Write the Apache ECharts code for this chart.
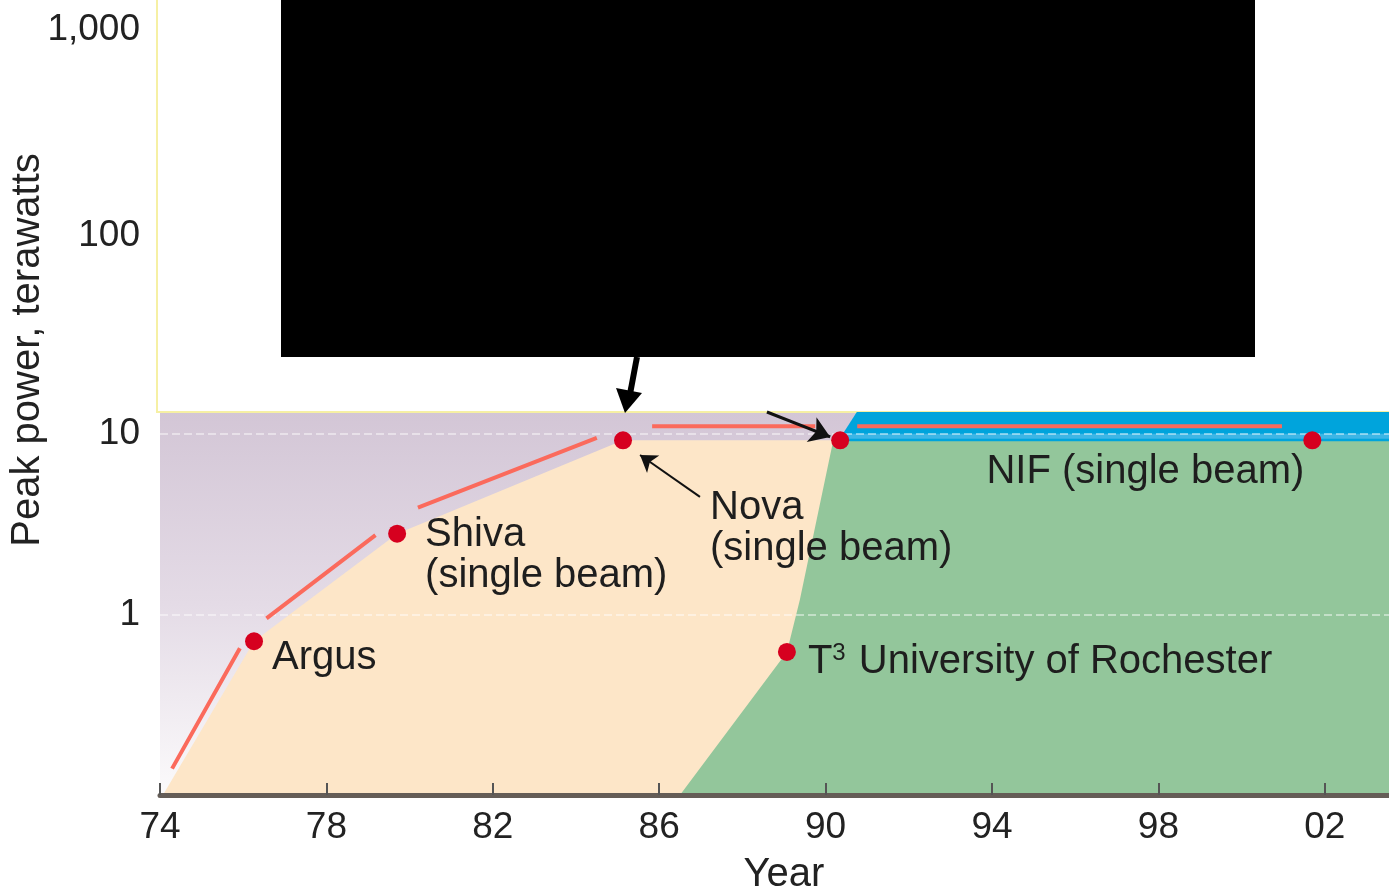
<!DOCTYPE html>
<html>
<head>
<meta charset="utf-8">
<script src="https://cdn.jsdelivr.net/npm/echarts@6/dist/echarts.min.js"></script>
<style>
    html, body {margin: 0; padding: 0; background: #fff;}
    #main {width: 1389px; height: 892px;}
</style>
</head>
<body>
<div id="main"></div>
<script>
// 激光装置: 年份 / 峰值功率(TW)
var aPointNames = ['Argus', 'Shiva', 'Nova', '', 'NIF', 'T3'];
var aPointYears = [1976.26, 1979.7, 1985.13, 1990.35, 2001.7, 1989.07];
var aPointPower = [0.71, 2.8, 9.2, 9.2, 9.2, 0.62];
var aPointText = ['Argus', 'Shiva\n(single beam)', 'Nova\n(single beam)', '', 'NIF (single beam)',
    '{t|T}{sup|3}{t| University of Rochester}'];

// 米色区域上沿
var aEnvelopeYears = [1974.07, 1976.26, 1979.7, 1985.13, 1990.5];
var aEnvelopePower = [0.1, 0.71, 2.8, 9.2, 9.2];

// 绿色区域上沿
var aGreenYears = [1986.5, 1989.07, 1989.38, 1990.18, 2004];
var aGreenPower = [0.1, 0.62, 1.2, 9.1, 9.1];

// 蓝色带
var aBlueYears = [1990.3, 1990.75, 2004];
var aBluePower = [9.1, 13.2, 13.2];
var aStripeYears = [1990.45, 2004];
var aStripePower = [9.7, 9.7];

// 红色虚线 (null 为断开处)
var aTrendYears = [1974.29, 1975.92, null, 1976.56, 1979.18, null, 1980.2, 1984.5, null, 1985.83, 1989.75, null, 1990.76, 2000.97];
var aTrendPower = [0.14, 0.65, null, 0.95, 2.75, null, 3.9, 9.5, null, 11.0, 11.0, null, 11.0, 11.0];

// 箭头
var aArrowFrom = [[1986.98, 4.47], [1988.59, 13.2]];
var aArrowTo = [[1985.54, 7.63], [1990.11, 9.6]];

// 刻度
var aYearTicks = [1974, 1978, 1982, 1986, 1990, 1994, 1998, 2002];
var aLowTicks = [1, 10];
var aHighTicks = [100, 1000];

var sFont = 'Liberation Sans';

function Pairs(aX, aY) {
    var aData = [];
    for (var i = 0; i < aX.length; i++) {
        if (aX[i] === null) {
            aData.push(['-', '-']);
        } else {
            aData.push([aX[i], aY[i]]);
        }
    }
    return aData
}

function GetPoints() {
    // 标签相对圆点的位置
    var jPlace = {
        'Argus': {position: 'right', offset: [9, 17]},
        'Shiva': {position: 'right', offset: [19, 22]},
        'Nova': {position: 'right', offset: [78, 88]},
        'NIF': {position: 'left', offset: [1, 32]},
        'T3': {position: 'right', offset: [12, 10]}
    };
    var aData = [];
    for (var i = 0; i < aPointNames.length; i++) {
        var jItem = {name: aPointNames[i], value: [aPointYears[i], aPointPower[i]]};
        var jPos = jPlace[aPointNames[i]];
        if (jPos) {
            jItem.label = {
                show: true,
                position: jPos.position,
                offset: jPos.offset,
                distance: 0,
                formatter: aPointText[i]
            };
        }
        aData.push(jItem);
    }
    return aData
}

function GetOption() {
    var aArrows = [];
    for (var i = 0; i < aArrowFrom.length; i++) {
        aArrows.push([
            {coord: aArrowFrom[i], lineStyle: {width: i === 0 ? 2 : 3}},
            {coord: aArrowTo[i], symbolSize: i === 0 ? 16 : 20}
        ]);
    }
    var jOption = {
        animation: false,
        textStyle: {fontFamily: sFont},
        grid: [
            {
                left: 160, width: 1248, top: 412, height: 383, outerBoundsMode: 'none',
                show: true, borderWidth: 0,
                backgroundColor: {
                    type: 'linear', x: 0, y: 0, x2: 0, y2: 1,
                    colorStops: [
                        {offset: 0, color: '#d3c6d6'},
                        {offset: 0.5, color: '#e4dbe6'},
                        {offset: 1, color: '#fbfafb'}
                    ]
                }
            },
            {
                left: 157, width: 1260, top: -4, height: 416, outerBoundsMode: 'none',
                show: true, backgroundColor: '#fff',
                borderColor: '#f6f0a4', borderWidth: 2
            }
        ],
        xAxis: [
            {
                type: 'value', gridIndex: 0, min: 1974, max: 2004, z: 6,
                name: 'Year', nameLocation: 'middle', nameGap: 60,
                nameTextStyle: {fontSize: 40, color: '#222', fontFamily: sFont},
                axisLine: {lineStyle: {color: '#655d57', width: 5}},
                axisTick: {inside: true, length: 12, lineStyle: {color: '#555', width: 2}, customValues: aYearTicks},
                axisLabel: {
                    fontSize: 37, color: '#222', margin: 14, customValues: aYearTicks,
                    formatter: function (v) { return ('0' + (Math.round(v) % 100)).slice(-2); }
                },
                splitLine: {show: false}
            },
            {type: 'value', gridIndex: 1, min: 1974, max: 2004, show: false}
        ],
        yAxis: [
            {
                type: 'log', gridIndex: 0, min: 0.1, max: 13.2, z: 3,
                axisLine: {show: false},
                axisTick: {show: false, customValues: aLowTicks},
                axisLabel: {
                    fontSize: 37, color: '#222', margin: 20, customValues: aLowTicks,
                    formatter: function (v) { return String(Math.round(v)); }
                },
                splitLine: {show: true, lineStyle: {color: 'rgba(255,255,255,0.45)', width: 2, type: 'dashed'}}
            },
            {
                type: 'log', gridIndex: 1, min: 13.84, max: 1464,
                axisLine: {show: false},
                axisTick: {show: false, customValues: aHighTicks},
                axisLabel: {
                    fontSize: 37, color: '#222', margin: 17, customValues: aHighTicks,
                    formatter: function (v) { return Math.round(v).toLocaleString('en-US'); }
                },
                splitLine: {show: false}
            }
        ],
        series: [
            {
                type: 'line', name: 'envelope', data: Pairs(aEnvelopeYears, aEnvelopePower),
                showSymbol: false, lineStyle: {width: 0}, z: 1,
                areaStyle: {color: '#fde6c8', opacity: 1, origin: 'start'}
            },
            {
                type: 'line', name: 'band', data: Pairs(aBlueYears, aBluePower),
                showSymbol: false, lineStyle: {width: 0}, z: 1,
                areaStyle: {color: '#00a4dc', opacity: 1, origin: 'start'}
            },
            {
                type: 'line', name: 'green', data: Pairs(aGreenYears, aGreenPower),
                showSymbol: false, lineStyle: {width: 0}, z: 2,
                areaStyle: {color: '#93c69b', opacity: 1, origin: 'start'}
            },
            {
                type: 'line', name: 'stripe', data: Pairs(aStripeYears, aStripePower),
                showSymbol: false, z: 2,
                lineStyle: {color: '#3db6e6', width: 5}
            },
            {
                type: 'line', name: 'trend', data: Pairs(aTrendYears, aTrendPower),
                showSymbol: false, connectNulls: false, z: 4,
                lineStyle: {color: '#fb6a5c', width: 4, cap: 'butt'}
            },
            {
                type: 'scatter', name: 'systems', data: GetPoints(),
                symbolSize: 18, z: 5,
                itemStyle: {color: '#d6001f', opacity: 1},
                label: {
                    show: false, fontSize: 40, color: '#1e1e1e', lineHeight: 41, fontFamily: sFont,
                    rich: {
                        t: {fontSize: 40, color: '#1e1e1e', fontFamily: sFont},
                        sup: {fontSize: 24, color: '#1e1e1e', fontFamily: sFont, verticalAlign: 'top', padding: [0, 2, 12, 0]}
                    }
                },
                markLine: {
                    silent: true, symbol: ['none', 'arrow'], symbolSize: 16,
                    label: {show: false},
                    lineStyle: {color: '#111', width: 2, type: 'solid'},
                    data: aArrows
                }
            }
        ],
        graphic: [
            {type: 'rect', shape: {x: 281, y: 0, width: 974, height: 357}, style: {fill: '#000'}, z: 10},
            {type: 'line', shape: {x1: 637, y1: 357, x2: 630, y2: 394}, style: {stroke: '#000', lineWidth: 6}, z: 10},
            {type: 'polygon', shape: {points: [[616, 388], [642, 393], [625, 413]]}, style: {fill: '#000'}, z: 10},
            {
                type: 'text', x: 28, y: 350, rotation: Math.PI / 2, z: 10,
                style: {
                    text: 'Peak power, terawatts', fontSize: 40, fontFamily: sFont,
                    fill: '#222', align: 'center', verticalAlign: 'middle'
                }
            }
        ]
    };
    return jOption
}

function SetOption(jOption, sTagID) {
    var objectDom = document.getElementById(sTagID);
    var myChart = echarts.init(objectDom);
    myChart.setOption(jOption);
    return myChart
}

SetOption(GetOption(), 'main');
</script>
</body>
</html>
